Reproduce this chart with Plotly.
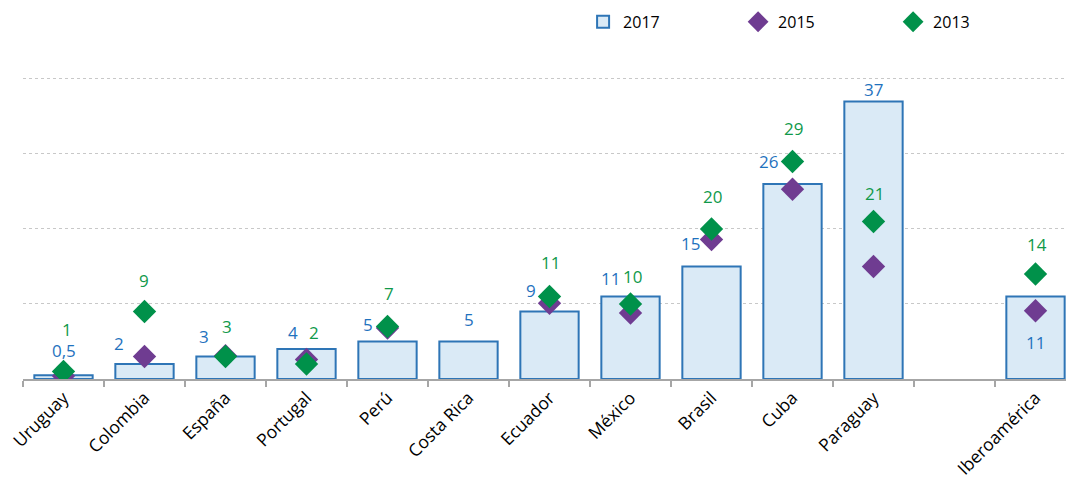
import plotly.graph_objects as go

# Categories (a blank slot separates the countries from the regional total)
categories = ["Uruguay", "Colombia", "España", "Portugal", "Perú", "Costa Rica",
              "Ecuador", "México", "Brasil", "Cuba", "Paraguay", " ", "Iberoamérica"]

values_2017 = [0.5, 2, 3, 4, 5, 5, 9, 11, 15, 26, 37, None, 11]
values_2015 = [0.4, 3.0, 3.1, 2.6, 6.8, None, 10.1, 8.8, 18.6, 25.3, 15.0, None, 9.1]
values_2013 = [1, 9, 3, 2, 7, None, 11, 10, 20, 29, 21, None, 14]

labels_2017 = ["0,5", "2", "3", "4", "5", "5", "9", "11", "15", "26", "37", "", "11"]
labels_2013 = ["1", "9", "3", "2", "7", "", "11", "10", "20", "29", "21", "", "14"]

# Pixel offsets of the value labels relative to each point
offsets_2017 = [(0, 25), (-26, 21), (-22, 20), (-14, 17), (-20, 17), (0, 22),
                (-19, 21), (-20, 18), (-21, 23), (-24, 22), (0, 12), (0, 0), (0, -46)]
offsets_2013 = [(3, 42), (-1, 31), (1, 30), (7, 32), (1, 33), (0, 0),
                (1, 34), (2, 27), (1, 32), (1, 33), (1, 28), (0, 0), (1, 29)]

BAR_FILL = "#DAEAF6"
BAR_LINE = "#2E75B6"
PURPLE = "#6F3C91"
GREEN = "#00914A"
BLUE_TXT = "#1F72BE"
GREEN_TXT = "#10994A"
FONT = "Open Sans"

fig = go.Figure()

fig.add_trace(go.Bar(
    x=categories, y=values_2017, name="2017",
    width=0.72,
    marker=dict(color=BAR_FILL, line=dict(color=BAR_LINE, width=2)),
))
fig.add_trace(go.Scatter(
    x=categories, y=values_2015, name="2015", mode="markers",
    marker=dict(symbol="diamond", size=18, color=PURPLE),
))
fig.add_trace(go.Scatter(
    x=categories, y=values_2013, name="2013", mode="markers",
    marker=dict(symbol="diamond", size=18, color=GREEN),
))

annotations = []
for cat, val, lab, (dx, dy) in zip(categories, values_2017, labels_2017, offsets_2017):
    if val is None or not lab:
        continue
    annotations.append(dict(x=cat, y=val, xref="x", yref="y", text=lab,
                            showarrow=False, xshift=dx, yshift=dy,
                            font=dict(family=FONT, size=17, color=BLUE_TXT)))
for cat, val, lab, (dx, dy) in zip(categories, values_2013, labels_2013, offsets_2013):
    if val is None or not lab:
        continue
    annotations.append(dict(x=cat, y=val, xref="x", yref="y", text=lab,
                            showarrow=False, xshift=dx, yshift=dy,
                            font=dict(family=FONT, size=17, color=GREEN_TXT)))

fig.update_layout(
    width=1066, height=485,
    margin=dict(l=23, r=0, t=60, b=106, autoexpand=False),
    paper_bgcolor="white", plot_bgcolor="white",
    font=dict(family=FONT, color="#000000"),
    annotations=annotations,
    legend=dict(orientation="h", x=0.537, xanchor="left",
                yref="container", y=0.99, yanchor="top",
                font=dict(family=FONT, size=16, color="#000000"),
                entrywidth=110, entrywidthmode="pixels", traceorder="normal"),
)

fig.update_xaxes(
    type="category", categoryorder="array", categoryarray=categories,
    range=[-0.5, -0.5 + 1043 / 81],
    showline=True, linecolor="#A6A6A6", linewidth=1.5,
    ticks="outside", tickson="boundaries", ticklen=6, tickcolor="#A6A6A6", tickwidth=1.5,
    tickangle=-45, tickfont=dict(family=FONT, size=17.5, color="#000000"),
    showgrid=False, automargin=False,
)
fig.update_yaxes(
    range=[0, 42.53], dtick=10, showticklabels=False,
    showgrid=True, gridcolor="#C8C8C8", griddash="dot", gridwidth=1,
    zeroline=False,
)

fig.write_html("out.html")
